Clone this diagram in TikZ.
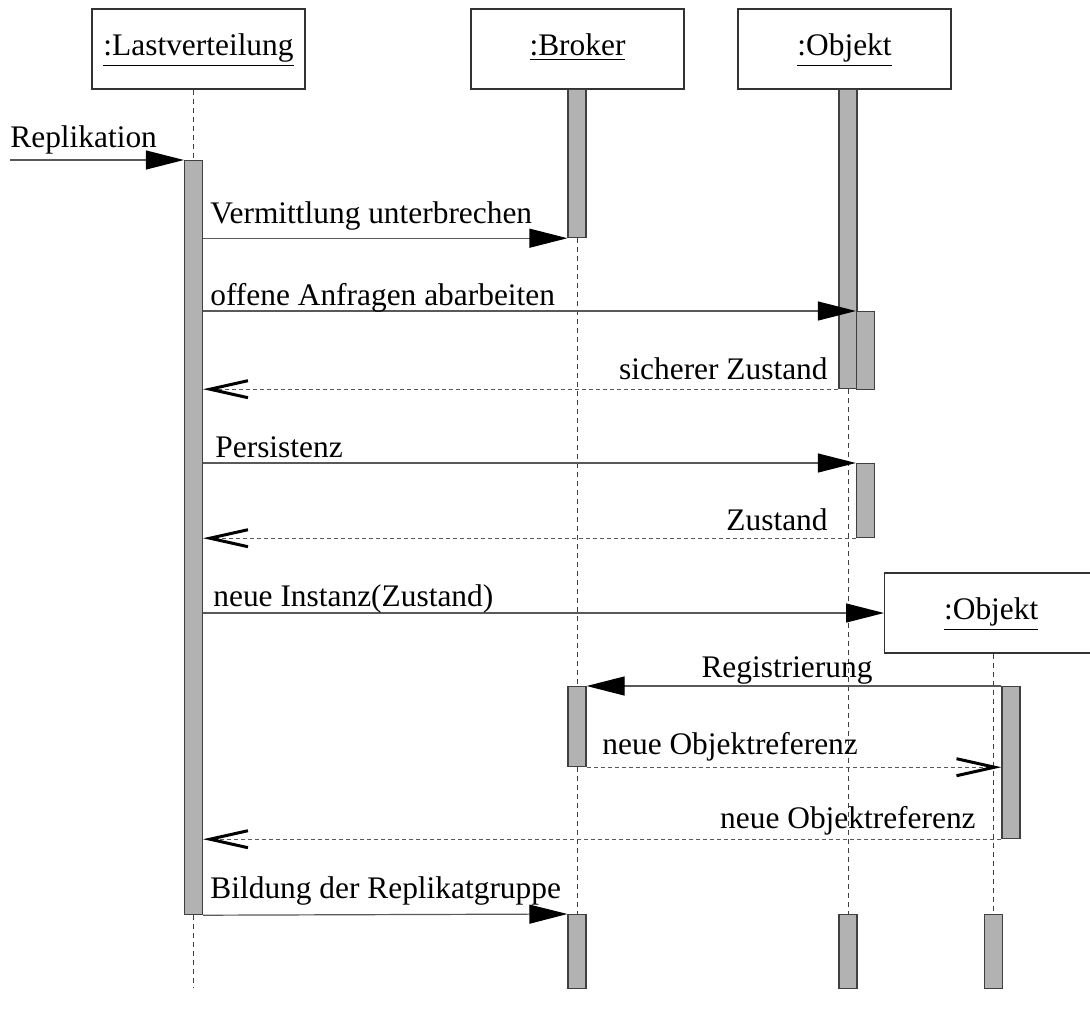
\documentclass[tikz,border=0pt]{standalone}
\usepackage{fontspec}
\setmainfont{Liberation Serif}
\usetikzlibrary{arrows.meta}

\tikzset{
    head/.style={draw=black!80, line width=0.7pt, minimum width=106.5pt, minimum height=40pt, inner sep=0pt, text height=0.72em, text depth=0.05em},
    bar/.style={draw=black!75, line width=0.6pt, fill=black!30, minimum width=9pt, inner sep=0pt, anchor=north},
    life/.style={black!75, line width=0.5pt, dash pattern=on 2.5pt off 2pt},
    call/.style={black!65, line width=0.6pt, -{Triangle[length=19pt, width=9.5pt, black]}},
    answer/.style={black!65, line width=0.6pt, dash pattern=on 2pt off 1.5pt, -{Straight Barb[length=19pt, width=8.5pt, line width=1.5pt, black]}},
    lbl/.style={inner sep=0pt}
}

\begin{document}
\begin{tikzpicture}[x=0.5pt, y=-0.5pt, font=\fontsize{15.7}{19}\selectfont]
    \useasboundingbox (0,0) rectangle (1090,1022);

    % Objects
    \node[head] (lvhead) at (198.5, 49) {\underline{:Lastverteilung}};
    \node[head] (brhead) at (577.5, 49) {\underline{:Broker}};
    \node[head] (objhead) at (844.5, 49) {\underline{:Objekt}};

    % Activation bars
    \node[bar, minimum height=377pt] (lvbar) at (193.5, 160) {};
    \node[bar, minimum height=74pt] (brbar1) at (577, 89) {};
    \node[bar, minimum height=149.5pt] (objbar1) at (848, 89) {};
    \node[bar, minimum height=39pt] (objbar2) at (865.5, 311) {};
    \node[bar, minimum height=37pt] (objbar3) at (865.5, 463) {};

    % New object, created later
    \node[head, anchor=west] (newhead) at (884, 613) {\underline{:Objekt}};
    \node[bar, minimum height=40pt] (brbar2) at (577, 686) {};
    \node[bar, minimum height=76pt] (newbar1) at (1011, 686) {};

    % Bars at the end
    \node[bar, minimum height=37pt] (brbar3) at (577, 914) {};
    \node[bar, minimum height=37pt] (objbar4) at (848, 914) {};
    \node[bar, minimum height=37pt] (newbar2) at (993.5, 914) {};

    % Lifelines
    \coordinate (lvend) at (193.5, 988);
    \draw[life] (lvbar.north |- lvhead.south) -- (lvbar.north);
    \draw[life] (lvbar.south) -- (lvend);
    \draw[life] (brbar1.south) -- (brbar2.north);
    \draw[life] (brbar2.south) -- (brbar3.north);
    \draw[life] (objbar1.south) -- (objbar4.north);
    \draw[life] (newbar2.north |- newhead.south) -- (newbar2.north);

    % Messages
    \coordinate (start) at (10, 160);
    \draw[call] (start) -- (lvbar.north west);
    \node[lbl, anchor=base west] (m1) at (10, 147) {Replikation};

    \draw[call] (lvbar.east |- brbar1.south) -- (brbar1.south west);
    \node[lbl, anchor=base west] (m2) at (210, 223) {Vermittlung unterbrechen};

    \draw[call] (lvbar.east |- objbar2.north west) -- (objbar2.north west);
    \node[lbl, anchor=base west] (m3) at (210, 305) {offene Anfragen abarbeiten};

    \draw[answer] (objbar1.south west) -- (lvbar.east |- objbar1.south west);
    \node[lbl, anchor=base east] (m4) at (828, 379) {sicherer Zustand};

    \draw[call] (lvbar.east |- objbar3.north west) -- (objbar3.north west);
    \node[lbl, anchor=base west] (m5) at (215, 457) {Persistenz};

    \draw[answer] (objbar3.south west) -- (lvbar.east |- objbar3.south west);
    \node[lbl, anchor=base east] (m6) at (828, 530) {Zustand};

    \draw[call] (lvbar.east |- newhead.west) -- (newhead.west);
    \node[lbl, anchor=base west] (m7) at (213, 606) {neue Instanz(Zustand)};

    \draw[call] (newbar1.north west) -- (brbar2.north east);
    \node[lbl, anchor=base] (m8) at (787, 677) {Registrierung};

    \draw[answer] (brbar2.south east) -- (newbar1.west |- brbar2.south east);
    \node[lbl, anchor=base west] (m9) at (602, 754) {neue Objektreferenz};

    \draw[answer] (newbar1.south west) -- (lvbar.east |- newbar1.south west);
    \node[lbl, anchor=base east] (m10) at (976, 828) {neue Objektreferenz};

    \draw[call] (lvbar.south east) -- (brbar3.north west);
    \node[lbl, anchor=base west] (m11) at (210, 898) {Bildung der Replikatgruppe};
\end{tikzpicture}
\end{document}
